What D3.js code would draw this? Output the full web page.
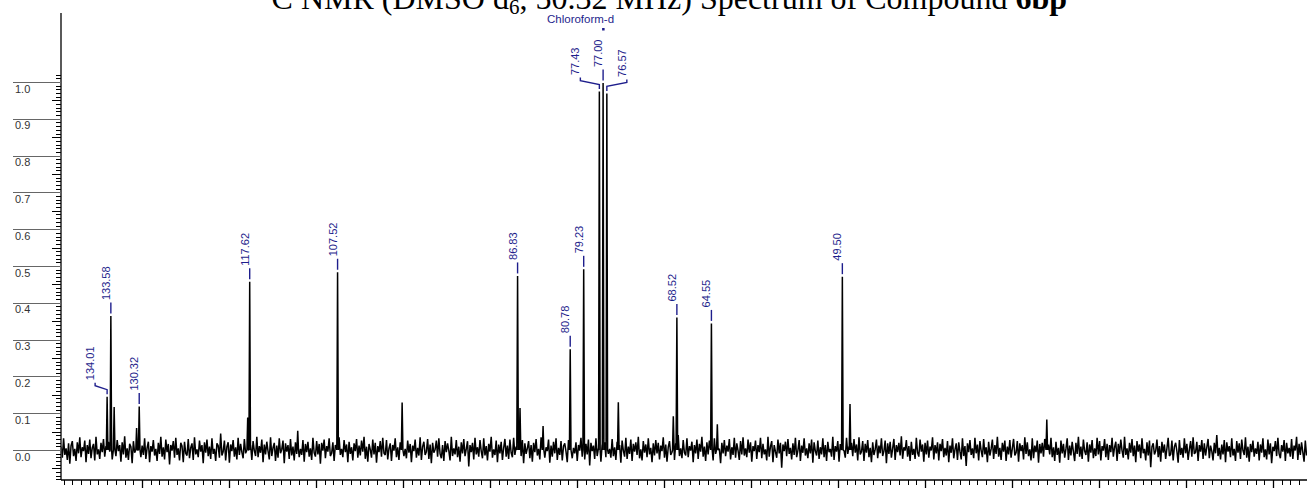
<!DOCTYPE html>
<html><head><meta charset="utf-8">
<script src="https://cdn.jsdelivr.net/npm/d3@7"></script>
<style>body{margin:0;background:#fff}svg{display:block}</style>
</head><body><svg id="chart" width="1307" height="488"></svg>
<script>
// Assigned carbon signals (ppm) and their normalised intensities
const peakShifts  = [134.01, 133.58, 130.32, 117.62, 107.52, 86.83, 80.78, 79.23, 77.43, 77.00, 76.57, 68.52, 64.55, 49.50];
const peakHeights = [0.145, 0.364, 0.118, 0.457, 0.483, 0.473, 0.274, 0.491, 0.974, 0.997, 0.969, 0.360, 0.344, 0.471];
const peakLabels  = ["134.01", "133.58", "130.32", "117.62", "107.52", "86.83", "80.78", "79.23", "77.43", "77.00", "76.57", "68.52", "64.55", "49.50"];

// Unlabelled small signals and shoulders
const minorShifts  = [133.20, 130.62, 117.85, 112.10, 100.10, 86.55, 83.90, 75.25, 68.93, 63.87, 48.62, 26.00];
const minorHeights = [0.117, 0.060, 0.088, 0.052, 0.129, 0.114, 0.065, 0.130, 0.092, 0.070, 0.125, 0.083];

// Baseline noise trace in counts (1 count = 0.0015 intensity), from 139.3 ppm towards -3.9 ppm
const noiseStart = 139.3;
const noiseStep = 0.1433;
const noiseCount = 0.0015;
const noise = [
  6,-14,21,-9,3,-18,12,-25,8,16,-11,2,-20,14,-6,23,-13,5,-2,17,-22,9,-7,19,-15,4,11,-19,24,-8,1,-16,13,-4,20,-12,7,-23,15,-3,
  10,-17,22,-6,-11,18,-2,9,-21,14,-8,25,-14,3,-18,11,6,-24,16,-5,12,-19,20,-1,-13,8,-9,21,-16,4,15,-22,7,-3,18,-10,2,-20,13,-7,
  24,-12,5,-17,19,-4,11,-26,9,-1,16,-14,22,-9,3,-19,13,7,-22,15,-6,-10,20,-15,4,12,-18,23,-8,1,-13,17,-3,9,-24,14,-5,19,-11,6,
  -16,21,-7,2,-20,12,8,-14,30,-10,-3,17,-19,6,14,-23,10,-2,18,-12,5,-17,22,-9,11,-4,-15,20,-6,3,-21,13,9,-18,16,-1,-11,24,-13,7,
  -5,19,-22,10,-8,15,-2,-17,23,-11,4,13,-20,8,-14,21,-6,1,17,-24,12,-3,9,-16,20,-10,6,-19,14,-7,25,-13,2,-9,18,-21,11,-4,15,-12,
  3,-18,22,-5,-12,16,-8,11,-25,13,-1,19,-15,7,-3,21,-11,-6,14,-20,9,4,-17,23,-9,2,-13,18,-4,10,-22,15,-7,5,-19,12,-2,20,-14,8,
  -10,17,-3,24,-16,6,-21,11,1,-14,19,-8,13,-23,7,-4,16,-12,22,-6,-9,18,-17,3,12,-20,9,-1,21,-13,5,-18,14,-7,25,-11,2,-15,17,-5,
  11,-22,8,-2,19,-14,4,-10,23,-18,6,15,-9,-3,20,-16,10,-24,13,-5,1,17,-12,21,-7,-15,9,-20,16,-4,12,-1,-19,24,-11,3,-8,18,-13,6,
  -21,14,-6,20,-11,2,16,-30,9,-4,13,-17,22,-8,5,-12,18,-2,-15,21,-10,7,-19,11,-3,24,-14,1,-9,17,-22,10,-6,15,-18,4,20,-12,8,-16,
  19,-5,-13,22,-9,6,-20,14,-1,-11,18,-24,12,-7,3,16,-15,9,-21,13,-4,20,-10,2,-17,23,-8,11,-14,5,-2,19,-23,8,-12,15,-6,21,-18,4,
  -9,16,-19,7,12,-3,-22,18,-10,25,-15,4,-6,14,-20,9,-1,22,-12,6,-17,11,-8,19,-28,13,-2,8,-16,21,-11,3,17,-21,10,-5,14,-13,23,-7,
  2,-14,20,-11,5,-18,15,-4,9,-23,17,-1,-12,22,-16,6,-7,19,-20,11,-3,14,-9,24,-15,1,-19,16,-5,10,-13,21,-8,4,-22,12,-10,18,-6,13,
  -17,8,-2,23,-14,10,-21,5,16,-9,-4,20,-18,12,-7,27,-11,3,-15,18,-5,-10,21,-13,7,-1,15,-22,9,-6,19,-16,11,-3,24,-12,6,-20,14,-8,
  17,-12,4,-19,21,-7,10,-15,2,-24,13,-6,18,-11,8,-3,20,-17,5,-9,22,-14,12,-1,-18,16,-8,23,-10,3,-13,19,-5,14,-21,7,-2,17,-16,9,
  -4,22,-15,11,-8,1,-19,24,-12,6,16,-22,9,-3,-14,19,-6,13,-32,10,-2,15,-11,20,-7,4,-17,12,-9,22,-13,-1,18,-20,8,-5,21,-10,3,-15,
  12,-6,19,-23,14,-2,-10,17,-16,5,-8,21,-13,9,-20,15,-4,2,-12,24,-18,7,-3,16,-21,11,-9,18,-1,-14,22,-7,6,-17,13,-11,20,-5,10,-19,
  23,-8,-3,16,-20,11,-5,18,-13,4,-22,14,-9,1,19,-15,8,-6,21,-11,-2,17,-24,12,-7,15,-14,3,20,-18,9,-4,13,-10,25,-16,5,-1,18,-12,
  7,-20,15,-9,2,-16,22,-5,-12,19,-3,10,-21,13,-8,17,-14,6,-1,23,-17,9,-6,14,-19,11,-2,20,-13,4,-10,16,-22,8,-5,21,-15,1,12,-18,
  14,-3,-17,21,-11,7,-29,12,-4,18,-9,3,-15,22,-6,10,-19,16,-1,-13,20,-8,5,-22,15,-10,2,19,-16,9,-7,24,-12,4,-18,13,-3,17,-20,6,
  -8,18,-14,3,20,-10,-5,16,-21,12,-2,9,-17,23,-7,14,-11,1,-19,21,-15,8,-4,17,-23,11,-6,13,-12,20,-1,-16,10,-8,22,-13,5,-20,15,-9,
  4,-23,17,-6,11,-14,2,21,-18,8,-10,15,-3,-20,13,-7,24,-12,6,-16,19,-2,-9,14,-21,10,-5,18,-15,3,-11,22,-8,16,-19,7,-1,20,-13,11,
  -18,9,-4,22,-12,5,15,-20,11,-7,19,-1,-14,24,-9,3,-17,13,-5,20,-11,8,-22,16,-3,10,-15,21,-6,2,-19,14,-10,17,-31,6,12,-8,-2,19,
  -13,7,-21,15,-5,10,-16,3,22,-11,-8,17,-19,6,13,-2,-23,18,-9,4,-14,21,-6,11,-18,1,16,-12,23,-7,-4,15,-20,9,-3,18,-16,12,-10,5,
  20,-15,8,-2,-19,13,-6,27,-11,4,-17,10,-8,18,-22,14,-3,7,-13,21,-10,2,-20,16,-5,12,-16,19,-1,-9,23,-14,6,-21,11,-4,17,-12,3,-7,
  15,-19,10,-5,21,-13,1,-17,19,-8,12,-24,6,-2,16,-11,22,-7,-15,9,-3,18,-20,13,-6,4,-12,20,-16,8,-1,24,-18,11,-9,14,-4,-21,17,-10
];

// Axis ticks
const yTickValues = [0.0, 0.1, 0.2, 0.3, 0.4, 0.5, 0.6, 0.7, 0.8, 0.9, 1.0];
const yTickLabels = ["0.0", "0.1", "0.2", "0.3", "0.4", "0.5", "0.6", "0.7", "0.8", "0.9", "1.0"];
const xMajorTicks = [130, 120, 110, 100, 90, 80, 70, 60, 50, 40, 30, 20, 10, 0];
const solventName = "Chloroform-d";
const solventShift = 77.00;

// ---- layout ----
const W = 1307, H = 488;
const svg = d3.select("#chart");
const x = d3.scaleLinear().domain([130, 0]).range([142, 1273]);
const y = d3.scaleLinear().domain([0, 1]).range([450, 82]);
const axisX = 61, axisBottom = 480, axisTop = 13;
const labelColor = "#1e1e8c";
const sans = "Arial, 'Liberation Sans', sans-serif";

// title (superscript mass number and subscript deuteration)
const title = svg.append("text")
  .attr("x", 1067).attr("y", 9).attr("text-anchor", "end")
  .attr("font-family", "'Times New Roman', 'Liberation Serif', serif")
  .attr("font-size", 32).attr("fill", "#000");
title.append("tspan").attr("font-size", 21).attr("dy", -12).text("13");
title.append("tspan").attr("dy", 12).text("C NMR (DMSO d");
title.append("tspan").attr("font-size", 21).attr("dy", 5).text("6");
title.append("tspan").attr("dy", -5).text(", 50.32 MHz) Spectrum of Compound ");
title.append("tspan").attr("font-weight", "bold").text("6bp");

// ---- y axis ----
const yAxis = svg.append("g");
yAxis.append("line").attr("x1", axisX).attr("x2", axisX)
  .attr("y1", axisTop).attr("y2", axisBottom).attr("stroke", "#000").attr("stroke-width", 1.3);
const minorY = d3.range(-8, 103).filter(i => i % 10 !== 0).map(i => i / 100);
yAxis.selectAll("line.minor").data(minorY).join("line").attr("class", "minor")
  .attr("x1", v => axisX - (Math.round(v * 100) % 5 === 0 ? 9 : 5)).attr("x2", axisX)
  .attr("y1", v => Math.round(y(v)) + 0.5).attr("y2", v => Math.round(y(v)) + 0.5)
  .attr("stroke", "#000").attr("stroke-width", 1);
yAxis.selectAll("line.major").data(yTickValues).join("line").attr("class", "major")
  .attr("x1", 13).attr("x2", axisX)
  .attr("y1", v => Math.round(y(v)) + 0.5).attr("y2", v => Math.round(y(v)) + 0.5)
  .attr("stroke", "#666").attr("stroke-width", 1);
yAxis.selectAll("text").data(yTickValues).join("text")
  .attr("x", 15).attr("y", v => y(v) + 10.5)
  .attr("font-family", sans).attr("font-size", 11).attr("fill", "#333")
  .text((v, i) => yTickLabels[i]);

// ---- x axis (ppm) ----
const xAxisG = svg.append("g").attr("transform", `translate(0,${axisBottom})`);
const minorX = d3.range(139, -4, -1).filter(p => xMajorTicks.indexOf(p) < 0);
xAxisG.append("line").attr("x1", axisX).attr("x2", W).attr("y1", 0).attr("y2", 0)
  .attr("stroke", "#000").attr("stroke-width", 1.3);
xAxisG.selectAll("line.mn").data(minorX).join("line").attr("class", "mn")
  .attr("x1", p => Math.round(x(p)) + 0.5).attr("x2", p => Math.round(x(p)) + 0.5)
  .attr("y1", 0).attr("y2", 5).attr("stroke", "#000");
xAxisG.selectAll("line.mj").data(xMajorTicks).join("line").attr("class", "mj")
  .attr("x1", p => Math.round(x(p)) + 0.5).attr("x2", p => Math.round(x(p)) + 0.5)
  .attr("y1", 0).attr("y2", 10).attr("stroke", "#000").attr("stroke-width", 1.3);

// ---- spectrum trace ----
const allPeaks = peakShifts.map((p, i) => [p, peakHeights[i]])
  .concat(minorShifts.map((p, i) => [p, minorHeights[i]]));
const baseline = noise.map((v, i) => [noiseStart - i * noiseStep, v * noiseCount])
  .filter(([p]) => !allPeaks.some(([q]) => Math.abs(p - q) < 0.1));
const trace = baseline.slice();
allPeaks.forEach(([q, h]) => {
  trace.push([q + 0.09, 0], [q, h], [q - 0.09, 0]);
});
trace.sort((a, b) => b[0] - a[0]);

const line = d3.line().x(d => x(d[0])).y(d => y(d[1]));
svg.append("clipPath").attr("id", "plotClip").append("rect")
  .attr("x", axisX + 0.5).attr("y", 0).attr("width", W - axisX).attr("height", axisBottom);
svg.append("path").datum(trace)
  .attr("clip-path", "url(#plotClip)")
  .attr("d", line).attr("fill", "none").attr("stroke", "#000")
  .attr("stroke-width", 1.5).attr("stroke-linejoin", "bevel");

// ---- peak labels ----
const labelShift = { "134.01": -12, "77.43": -19, "76.57": 20 };
const labels = svg.append("g");
peakShifts.forEach((p, i) => {
  const xp = x(p), ya = y(peakHeights[i]);
  const dx = labelShift[peakLabels[i]] || 0;
  const xl = xp + dx;
  let d, textBottom;
  if (dx === 0) {
    d = `M${xp},${ya - 2.5}V${ya - 13.5}`;
    textBottom = ya - 16;
  } else {
    const t0 = ya - 14;
    d = `M${xl},${t0}V${t0 + 3}L${xp},${t0 + 7}V${ya - 2.5}`;
    textBottom = t0 - 2.5;
  }
  labels.append("path").attr("d", d).attr("fill", "none")
    .attr("stroke", labelColor).attr("stroke-width", 1.4);
  labels.append("text")
    .attr("transform", `translate(${xl - 1},${textBottom}) rotate(-90)`)
    .attr("font-family", sans).attr("font-size", 11).attr("fill", labelColor)
    .text(peakLabels[i]);
});

// solvent marker
labels.append("text").attr("x", x(solventShift) + 11).attr("y", 23)
  .attr("text-anchor", "end").attr("font-family", sans).attr("font-size", 11.5)
  .attr("fill", labelColor).text(solventName);
labels.append("rect").attr("x", x(solventShift) - 1).attr("y", 28)
  .attr("width", 2.5).attr("height", 2.5).attr("fill", labelColor);
</script></body></html>
